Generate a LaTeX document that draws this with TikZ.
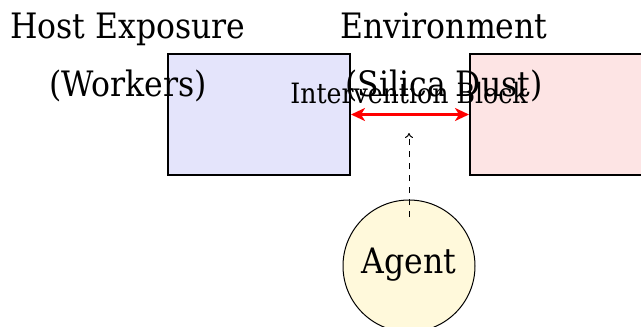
\documentclass[tikz,border=0pt]{standalone}
\usepackage{fontspec}
\setmainfont{DejaVu Serif Condensed}
\usetikzlibrary{arrows.meta}
\definecolor{hostfill}{RGB}{228,228,251}
\definecolor{envfill}{RGB}{253,228,228}
\definecolor{agentfill}{RGB}{255,249,219}
\tikzset{
  factorbox/.style={draw=black, line width=2pt, minimum width=182pt, minimum height=121pt, inner sep=0pt},
  headlabel/.style={align=center, anchor=base, inner sep=0pt, font=\fontsize{35}{58}\selectfont},
  blockarrow/.style={draw=red, line width=3pt, {Stealth[length=14pt,width=13pt,inset=4pt]}-{Stealth[length=14pt,width=13pt,inset=4pt]}},
  agentcircle/.style={circle, draw=black, line width=1pt, fill=agentfill, minimum size=132pt, inner sep=0pt},
  influence/.style={line width=1pt, dash pattern=on 6pt off 6pt, -{To[length=5pt,width=8pt]}}
}
\begin{document}
\begin{tikzpicture}[x=1pt, y=-1pt]
  \useasboundingbox (0,0) rectangle (641,327);
  \clip (0,0) rectangle (641,327);
  % the two blocks
  \node[factorbox, fill=hostfill] (host) at (259,114.5) {};
  \node[factorbox, fill=envfill] (env) at (561,114.5) {};
  % headings (base anchor sits on the last line)
  \node[headlabel] (hostlabel) at (128,96) {Host Exposure\\(Workers)};
  \node[headlabel] (envlabel) at (444,96) {Environment\\(Silica Dust)};
  % blocked link between host and environment
  \draw[blockarrow] (host.east) -- (env.west);
  \node[anchor=base, inner sep=0pt, font=\fontsize{28}{32}\selectfont] (block) at (409,103) {Intervention Block};
  % agent
  \node[agentcircle] (agent) at (409,266) {};
  \node[anchor=base, inner sep=0pt, font=\fontsize{35}{40}\selectfont] (agenttext) at (409,273) {Agent};
  \coordinate (dashstart) at (409,217);
  \coordinate (dashend) at (409,133);
  \draw[influence] (dashstart) -- (dashend);
\end{tikzpicture}
\end{document}
